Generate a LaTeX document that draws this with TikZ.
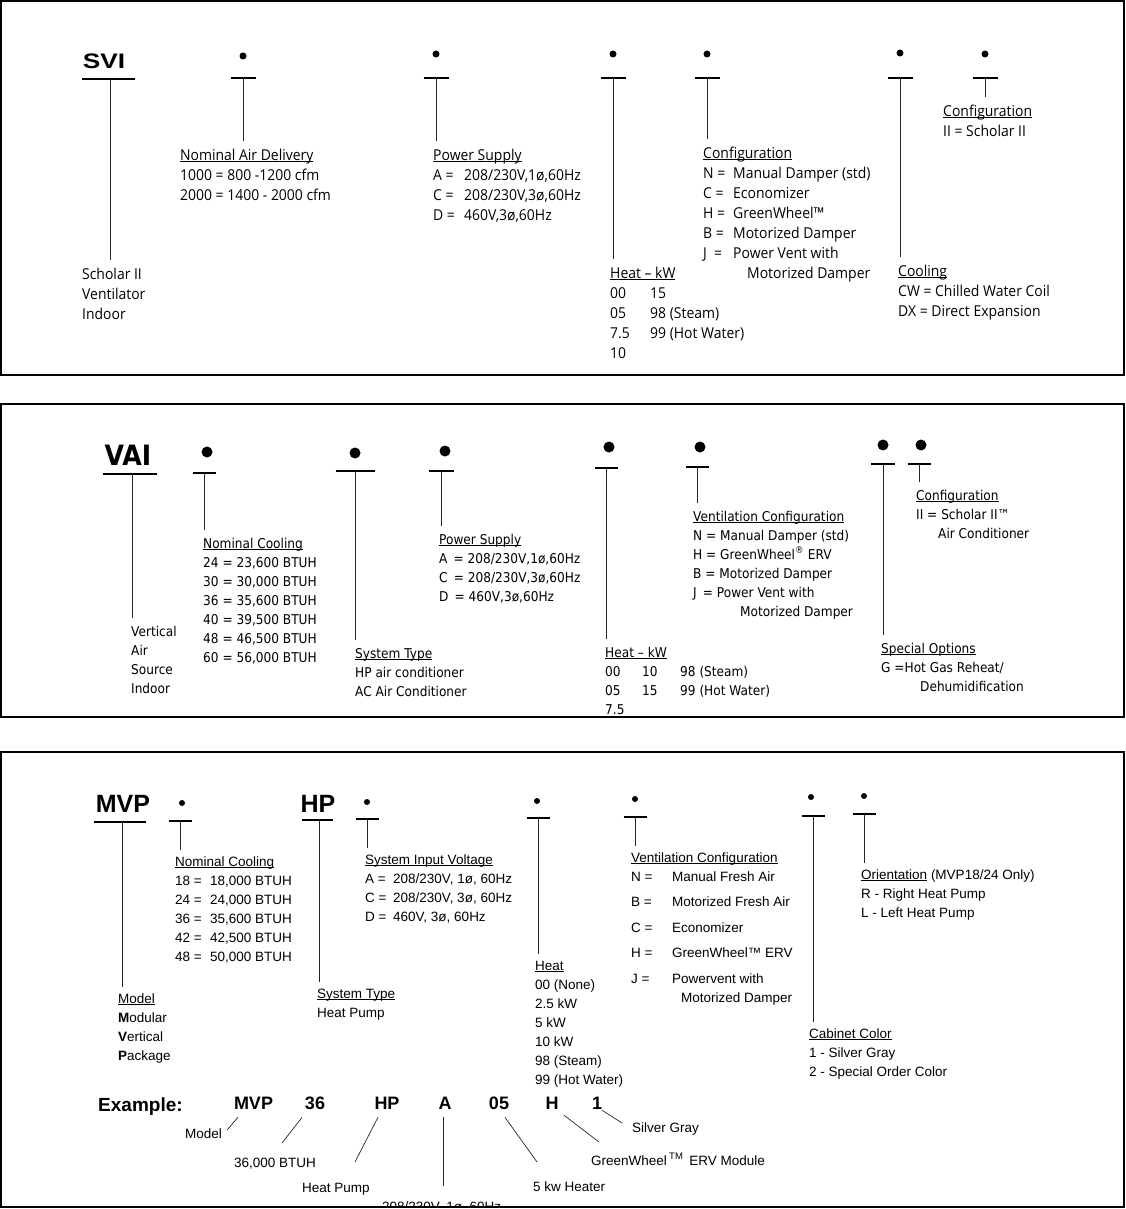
\documentclass[tikz,border=0pt]{standalone}
\usepackage{fontspec}
\setmainfont{Liberation Sans}
\newfontfamily\fontA[FakeStretch=0.93]{Open Sans}
\newfontfamily\fontB[FakeStretch=0.9]{DejaVu Sans}
\newfontfamily\fontC{Liberation Sans}
\usetikzlibrary{positioning,calc}

\newcommand\fA{\fontA\fontsize{15}{20}\selectfont}
\newcommand\fB{\fontB\fontsize{13.5}{19}\selectfont}
\newcommand\fC{\fontC\fontsize{13.5}{19}\selectfont}
\newcommand\hd[1]{\strut\underline{\smash{#1}}}

\tikzset{
  frame/.style={line width=1.3pt},
  bar/.style={line width=1.6pt},
  stem/.style={line width=0.7pt, black!85},
  blob/.style={circle, fill=black, inner sep=0pt, minimum size=#1},
  blob/.default=6.5pt,
  lbl/.style={anchor=north west, inner sep=0pt, align=left},
  fa/.style={lbl, yshift=14pt, font=\fA},
  fb/.style={lbl, yshift=13.3pt, font=\fB},
  fc/.style={lbl, yshift=13.3pt, font=\fC},
  tag/.style={anchor=base west, inner sep=0pt, font=\fC},
  code/.style={anchor=base, inner sep=0pt, font=\fontC\bfseries\fontsize{18}{18}\selectfont}
}

\begin{document}
\begin{tikzpicture}[x=1pt,y=-1pt]
\useasboundingbox (0,0) rectangle (1126,1209);

% panels
\draw[frame] (1,1) rectangle (1124,375);
\draw[frame] (1,404) rectangle (1124,717);
\draw[frame] (1,752) rectangle (1124,1207);

%%% SVI
\node[fa] (lsvi) at (82,279) {\strut Scholar II\\Ventilator\\Indoor};
\node[fa] (lair) at (180,160) {\hd{Nominal Air Delivery}\\1000 = 800 -1200 cfm\\2000 = 1400 - 2000 cfm};
\node[fa] (lpwr) at (433,160) {\hd{Power Supply}\\\makebox[31pt][l]{A =}208/230V,1ø,60Hz\\\makebox[31pt][l]{C =}208/230V,3ø,60Hz\\\makebox[31pt][l]{D =}460V,3ø,60Hz};
\node[fa] (lheat) at (610,278) {\hd{Heat – kW}\\\makebox[40pt][l]{00}15\\\makebox[40pt][l]{05}98 (Steam)\\\makebox[40pt][l]{7.5}99 (Hot Water)\\10};
\node[fa] (lcfg) at (703,158) {\hd{Configuration}\\\makebox[30pt][l]{N =}Manual Damper (std)\\\makebox[30pt][l]{C =}Economizer\\\makebox[30pt][l]{H =}GreenWheel™\\\makebox[30pt][l]{B =}Motorized Damper\\\makebox[30pt][l]{J \ =}Power Vent with\\\hspace*{44pt}Motorized Damper};
\node[fa] (lcool) at (898,276) {\hd{Cooling}\\CW = Chilled Water Coil\\DX = Direct Expansion};
\node[fa] (lcfgb) at (943,116) {\hd{Configuration}\\II = Scholar II};

\node[inner sep=0pt, font=\fontC\bfseries\fontsize{21}{21}\selectfont] (svi) at (104,61) {\scalebox{1.25}[1]{SVI}};
\coordinate (bsvi) at (110,79);
\draw[bar] ([xshift=-28pt]bsvi) -- ([xshift=25pt]bsvi);
\draw[stem] (bsvi) -- ([yshift=5pt]bsvi |- lsvi.north);
\foreach \n/\x/\y in {air/243/56, pwr/436/54, heat/613/54, cfg/707/54, cool/900/53, cfgb/985/54}{
  \node[blob=7pt] (d\n) at (\x,\y) {};
  \coordinate (b\n) at (\x,78);
  \draw[bar] ([xshift=-12.5pt]b\n) -- ([xshift=12.5pt]b\n);
  \draw[stem] (b\n) -- ([yshift=5pt]b\n |- l\n.north);
}

%%% VAI
\node[fb] (lvai) at (131,636) {\strut Vertical\\Air\\Source\\Indoor};
\node[fb] (lnc) at (203,548) {\hd{Nominal Cooling}\\24 = 23,600 BTUH\\30 = 30,000 BTUH\\36 = 35,600 BTUH\\40 = 39,500 BTUH\\48 = 46,500 BTUH\\60 = 56,000 BTUH};
\node[fb] (lsys) at (355,658) {\hd{System Type}\\HP air conditioner\\AC Air Conditioner};
\node[fb] (lps) at (439,544) {\hd{Power Supply}\\A \,= 208/230V,1ø,60Hz\\C \,= 208/230V,3ø,60Hz\\D \,= 460V,3ø,60Hz};
\node[fb] (lht) at (605,657) {\hd{Heat – kW}\\\makebox[37pt][l]{00}\makebox[38pt][l]{10}98 (Steam)\\\makebox[37pt][l]{05}\makebox[38pt][l]{15}99 (Hot Water)\\7.5};
\node[fb] (lvc) at (693,521) {\hd{Ventilation Configuration}\\N = Manual Damper (std)\\H = GreenWheel\textsuperscript{®} ERV\\B = Motorized Damper\\J \,= Power Vent with\\\hspace*{47pt}Motorized Damper};
\node[fb] (lso) at (881,653) {\hd{Special Options}\\G =Hot Gas Reheat/\\\hspace*{39pt}Dehumidification};
\node[fb] (lcf) at (916,500) {\hd{Configuration}\\II = Scholar II™\\\hspace*{22pt}Air Conditioner};

\node[inner sep=0pt, font=\fontB\bfseries\fontsize{28}{28}\selectfont] (vai) at (128,455) {VAI};
\coordinate (bvai) at (132,474);
\draw[bar, line width=1.3pt] ([xshift=-29pt]bvai) -- ([xshift=25pt]bvai);
\draw[stem] (bvai) -- ([yshift=4.7pt]bvai |- lvai.north);
\foreach \n/\dx/\dy/\x/\y/\w in {nc/207/452/204/473/11.5, sys/355/453/355/471/19.5, ps/445/451/441/471/12.5, ht/609/447/606/468/11.5, vc/700/447/697/467/11.5, so/883/445/883/464/12, cf/921/445/919/464/11.5}{
  \node[blob=11pt] (d\n) at (\dx,\dy) {};
  \coordinate (b\n) at (\x,\y);
  \draw[bar, line width=1.3pt] ([xshift=-\w pt]b\n) -- ([xshift=\w pt]b\n);
  \draw[stem] (b\n) -- ([yshift=4.7pt]b\n |- l\n.north);
}

%%% MVP
\node[fc] (lmod) at (118,1003) {\hd{Model}\\\textbf{M}odular\\\textbf{V}ertical\\\textbf{P}ackage};
\node[fc] (lnom) at (175,866) {\hd{Nominal Cooling}\\\makebox[35pt][l]{18 =}18,000 BTUH\\\makebox[35pt][l]{24 =}24,000 BTUH\\\makebox[35pt][l]{36 =}35,600 BTUH\\\makebox[35pt][l]{42 =}42,500 BTUH\\\makebox[35pt][l]{48 =}50,000 BTUH};
\node[fc] (lst) at (317,998) {\hd{System Type}\\Heat Pump};
\node[fc] (lvolt) at (365,864) {\hd{System Input Voltage}\\\makebox[28pt][l]{A =}208/230V, 1ø, 60Hz\\\makebox[28pt][l]{C =}208/230V, 3ø, 60Hz\\\makebox[28pt][l]{D =}460V, 3ø, 60Hz};
\node[fc] (lheat3) at (535,970) {\hd{Heat}\\00 (None)\\2.5 kW\\5 kW\\10 kW\\98 (Steam)\\99 (Hot Water)};
\node[fc] (lvent) at (631,862) {\hd{Ventilation Configuration}\\\makebox[41pt][l]{N =}Manual Fresh Air\\[6.5pt]\makebox[41pt][l]{B =}Motorized Fresh Air\\[6.5pt]\makebox[41pt][l]{C =}Economizer\\[6.5pt]\makebox[41pt][l]{H =}GreenWheel™ ERV\\[6.5pt]\makebox[41pt][l]{J =}Powervent with\\\hspace*{50pt}Motorized Damper};
\node[fc] (lcab) at (809,1038) {\hd{Cabinet Color}\\1 - Silver Gray\\2 - Special Order Color};
\node[fc] (lori) at (861,879) {\hd{Orientation} (MVP18/24 Only)\\R - Right Heat Pump\\L - Left Heat Pump};

\node[inner sep=0pt, font=\fontC\bfseries\fontsize{25}{25}\selectfont] (mvp) at (123,804) {MVP};
\node[inner sep=0pt, font=\fontC\bfseries\fontsize{25}{25}\selectfont] (hp) at (318,804) {HP};
\coordinate (bmvp) at (122,822);
\coordinate (bhp) at (319,820);
\draw[bar] ([xshift=-28pt]bmvp) -- ([xshift=24pt]bmvp);
\draw[bar] ([xshift=-17pt]bhp) -- ([xshift=14pt]bhp);
\draw[stem] (bmvp) -- ([yshift=2.7pt]bmvp |- lmod.north);
\draw[stem] (bhp) -- ([yshift=2.7pt]bhp |- lst.north);
\foreach \n/\dx/\dy/\x/\y in {nom/182/803/180/821, volt/367/802/367/819, heat3/537/801/538/818, vent/635/799/635/817, cab/811/797/813/816, ori/864/796/864/814}{
  \node[blob=6pt] (d\n) at (\dx,\dy) {};
  \coordinate (b\n) at (\x,\y);
  \draw[bar] ([xshift=-11.5pt]b\n) -- ([xshift=11.5pt]b\n);
  \draw[stem] (b\n) -- ([yshift=2.7pt]b\n |- l\n.north);
}

% example
\node[anchor=base west, inner sep=0pt, font=\fontC\bfseries\fontsize{19}{19}\selectfont] (ex) at (98,1111) {Example:};
\node[code] (eMVP) at (253.5,1109) {MVP};
\node[code] (e36) at (315,1109) {36};
\node[code] (eHP) at (387,1109) {HP};
\node[code] (eA) at (445,1109) {A};
\node[code] (e05) at (499,1109) {05};
\node[code] (eH) at (552,1109) {H};
\node[code] (e1) at (597,1109) {1};

\node[tag] (xMVP) at (185,1138) {Model};
\node[tag] (x36) at (234,1167) {36,000 BTUH};
\node[tag] (xHP) at (302,1192) {Heat Pump};
\begin{scope}
\clip (0,1100) rectangle (1126,1207);
\node[tag] (xA) at (382,1211) {208/230V, 1ø, 60Hz};
\end{scope}
\node[tag] (x05) at (533,1191) {5 kw Heater};
\node[tag] (xH) at (591,1165) {GreenWheel\,\textsuperscript{TM}\, ERV Module};
\node[tag] (x1) at (632,1132) {Silver Gray};

\draw[stem] ($(eMVP.south)+(-15.5,8)$) -- ($(xMVP.base east)+(5,-8)$);
\draw[stem] ($(e36.south)+(-13,8)$) -- ($(x36.base west)+(48,-24)$);
\draw[stem] ($(eHP.south)+(-9,8)$) -- ($(xHP.base west)+(53,-30)$);
\draw[stem] ($(eA.south)+(-2,8)$) -- ($(xA.base west)+(61,-25)$);
\draw[stem] ($(e05.south)+(6,8)$) -- ($(x05.base west)+(4,-29)$);
\draw[stem] ($(eH.south)+(12,6)$) -- ($(xH.base west)+(8,-23)$);
\draw[stem] ($(e1.south)+(5,1)$) -- ($(x1.base west)+(-10,-9)$);
\end{tikzpicture}
\end{document}
